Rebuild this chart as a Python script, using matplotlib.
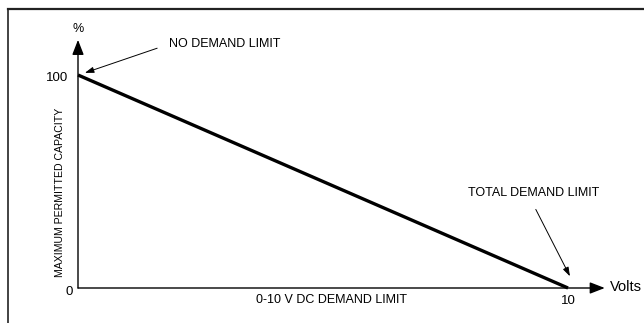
import matplotlib.pyplot as plt
from matplotlib.lines import Line2D

plt.rcParams['font.family'] = ['Liberation Sans', 'DejaVu Sans']

# control signal (volts) vs permitted capacity (%)
volts = [0, 10]
capacity = [100, 0]
x_ticks = [0, 10]
y_ticks = [0, 100]

fig = plt.figure(figsize=(6.44, 3.23), dpi=100)
W, H = 644.0, 323.0

# frame: top and left edges only
fig.add_artist(Line2D([8 / W, 643 / W], [1 - 9 / H, 1 - 9 / H], color='#222222', lw=1.6))
fig.add_artist(Line2D([8 / W, 8 / W], [0, 1 - 9 / H], color='#222222', lw=1.2))

ax = fig.add_axes([78 / W, 1 - 288 / H, (568 - 78) / W, (288 - 75) / H])
ax.set_xlim(0, 10)
ax.set_ylim(0, 100)
ax.axis('off')

ax.plot(volts, capacity, color='black', lw=2.4, solid_capstyle='butt', clip_on=False)

# axes drawn as arrows
axis_arrow = dict(arrowstyle='-|>,head_length=0.9,head_width=0.35',
                  color='black', lw=1.0, shrinkA=0, shrinkB=0)
ax.annotate('', xy=(10.75, 0), xytext=(0, 0), arrowprops=axis_arrow,
            annotation_clip=False)
ax.annotate('', xy=(0, 116.5), xytext=(0, 0), arrowprops=axis_arrow,
            annotation_clip=False)

ax.text(10.86, 0.5, 'Volts', fontsize=10.5, ha='left', va='center')
ax.text(0, 121.5, '%', fontsize=9, ha='center', va='center')

ax.text(-0.2, 100 - 1.5, str(y_ticks[1]), fontsize=9.5, ha='right', va='center')
ax.text(-0.17, -2.0, str(y_ticks[0]), fontsize=9.5, ha='center', va='center')
ax.text(x_ticks[1], -6.0, str(x_ticks[1]), fontsize=9.5, ha='center', va='center')

ax.text(5.18, -5.8, '0-10 V DC DEMAND LIMIT', fontsize=9, ha='center', va='center')
ax.text(-0.37, 45, 'MAXIMUM PERMITTED CAPACITY', fontsize=7.6, rotation=90,
        ha='center', va='center')

note_arrow = dict(arrowstyle='-|>,head_length=0.6,head_width=0.2',
                  color='black', lw=0.7, shrinkB=0)
ax.annotate('NO DEMAND LIMIT', xy=(0.14, 101), xytext=(1.86, 114.5),
            fontsize=9, ha='left', va='center', annotation_clip=False,
            arrowprops=dict(note_arrow, shrinkA=7, relpos=(0, 0.5)))
ax.annotate('TOTAL DEMAND LIMIT', xy=(10.04, 5.5), xytext=(9.29, 44.5),
            fontsize=9, ha='center', va='center', annotation_clip=False,
            arrowprops=dict(note_arrow, shrinkA=6, relpos=(0.48, 0)))

fig.savefig('out.png', dpi=100)
